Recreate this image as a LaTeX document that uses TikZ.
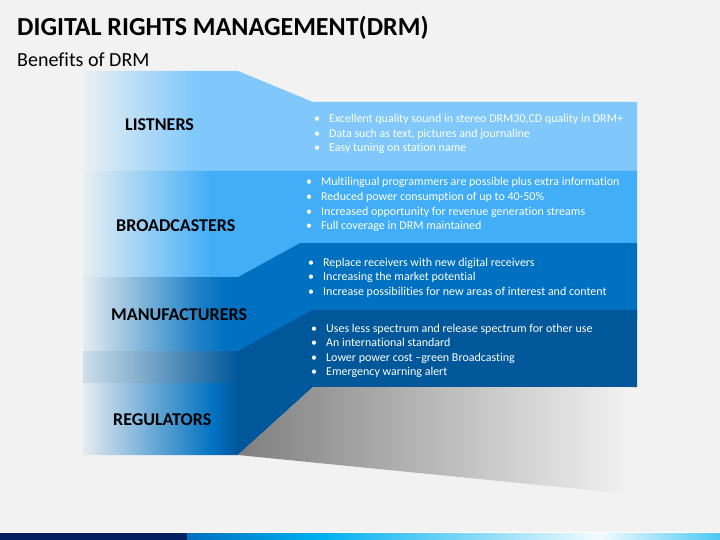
\documentclass[tikz,border=0pt]{standalone}
\usepackage{fontspec}
\setmainfont[Ligatures=NoCommon]{Carlito}
\definecolor{bgc}{HTML}{F2F2F2}
\definecolor{lone}{HTML}{80C8FB}
\definecolor{ltwo}{HTML}{42AEF8}
\definecolor{lthree}{HTML}{0070C0}
\definecolor{lfour}{HTML}{00579A}
\definecolor{navy}{HTML}{002060}
\definecolor{cyanb}{HTML}{00B0F0}
\colorlet{fone}{lone!5!bgc}
\colorlet{ftwo}{ltwo!5!bgc}
\colorlet{fthree}{lthree!5!bgc}
\colorlet{mthree}{lthree!88!bgc}
\colorlet{mfour}{lthree!62!bgc}
\pgfdeclarehorizontalshading{shone}{100bp}{color(0bp)=(fone); color(25bp)=(fone); color(35bp)=(lone); color(100bp)=(lone)}
\pgfdeclarehorizontalshading{shtwo}{100bp}{color(0bp)=(ftwo); color(25bp)=(ftwo); color(36.5bp)=(ltwo); color(100bp)=(ltwo)}
\pgfdeclarehorizontalshading{shthree}{100bp}{color(0bp)=(fthree); color(25bp)=(fthree); color(35.5bp)=(mthree); color(38bp)=(lthree); color(100bp)=(lthree)}
\pgfdeclarehorizontalshading{shfour}{100bp}{color(0bp)=(fthree); color(25bp)=(fthree); color(32bp)=(mfour); color(36.9bp)=(lthree); color(39bp)=(lfour); color(100bp)=(lfour)}
\begin{document}
\begin{tikzpicture}[x=1pt,y=-1pt,
  label/.style={anchor=west,inner sep=0pt,font=\fontsize{18}{21}\selectfont\bfseries,text=black},
  blist/.style={anchor=base west,inner sep=0pt,text=white,font=\fontsize{12}{14.5}\selectfont},
]
\useasboundingbox (0,0) rectangle (720,540);
\fill[bgc] (0,0) rectangle (720,540);
% title
\node[anchor=base west,inner sep=0pt,font=\fontsize{26}{30}\selectfont\bfseries] (title) at (17,36) {DIGITAL RIGHTS MANAGEMENT(DRM)};
\node[anchor=base west,inner sep=0pt,font=\fontsize{20}{24}\selectfont] (sub) at (17,67) {Benefits of DRM};
% layer 1
\shade[shading=shone] (83,71) -- (238,71) -- (313,102) -- (637,102) -- (637,171) -- (83,171) -- cycle;
% layer 2
\shade[shading=shtwo] (83,171) -- (637,171) -- (637,243) -- (300,243) -- (238,277) -- (83,277) -- cycle;
% layer 3
\shade[shading=shthree] (83,277) -- (238,277) -- (300,243) -- (637,243) -- (637,320) -- (312,320) -- (238,351) -- (83,351) -- cycle;
% layer 4
\shade[shading=shfour] (83,351) -- (238,351) -- (312,310) -- (637,310) -- (637,387) -- (313,387) -- (238,455) -- (83,455) -- cycle;
\shade[left color=lthree!15!bgc,middle color=lthree!72!bgc,right color=lfour] (83,351) rectangle (238,382);
% grey shadow
\shade[left color=black!50,right color=bgc] (238,455) -- (313,387) -- (630,387) -- (630,494) -- cycle;
% labels
\node[label] (l1) at (125,125) {LISTNERS};
\node[label] (l2) at (116,226) {BROADCASTERS};
\node[label] (l3) at (111,315) {MANUFACTURERS};
\node[label] (l4) at (113,420) {REGULATORS};
% bullet lists
\node[blist] (b1) at (314,123) {\begin{tabular}[t]{@{}l@{\hspace{9pt}}l@{}}
• & Excellent quality sound in stereo DRM30,CD quality in DRM+\\
• & Data such as text, pictures and journaline\\
• & Easy tuning on station name
\end{tabular}};
\node[blist] (b2) at (306,186) {\begin{tabular}[t]{@{}l@{\hspace{9pt}}l@{}}
• & Multilingual programmers are possible plus extra information\\
• & Reduced power consumption of up to 40-50\%\\
• & Increased opportunity for revenue generation streams\\
• & Full coverage in DRM maintained
\end{tabular}};
\node[blist] (b3) at (308,266) {\begin{tabular}[t]{@{}l@{\hspace{9pt}}l@{}}
• & Replace receivers with new digital receivers\\
• & Increasing the market potential\\
• & Increase possibilities for new areas of interest and content
\end{tabular}};
\node[blist] (b4) at (311,332) {\begin{tabular}[t]{@{}l@{\hspace{9pt}}l@{}}
• & Uses less spectrum and release spectrum for other use\\
• & An international standard\\
• & Lower power cost –green Broadcasting\\
• & Emergency warning alert
\end{tabular}};
% bottom bar
\fill[white] (0,532) rectangle (720,533);
\fill[navy] (0,533) rectangle (187,540);
\shade[left color=lthree,right color=cyanb] (187,533) rectangle (320,540);
\shade[left color=cyanb,right color=cyanb!5!white] (320,533) rectangle (600,540);
\shade[left color=cyanb!5!white,right color=cyanb!70!white] (600,533) rectangle (720,540);
\end{tikzpicture}
\end{document}
